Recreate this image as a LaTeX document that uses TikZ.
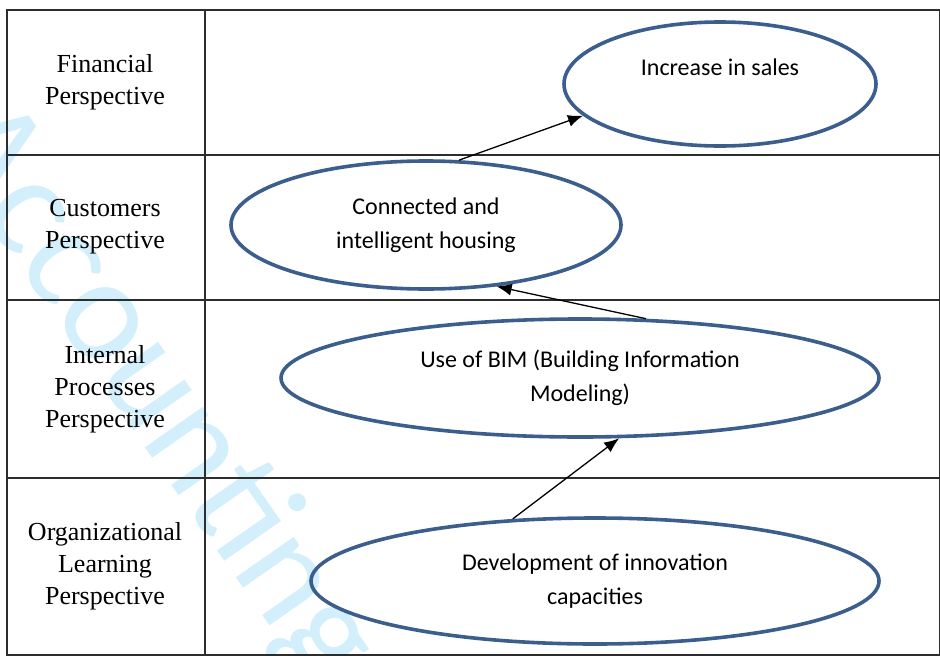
\documentclass[tikz,border=0pt]{standalone}
\usepackage{fontspec}
\usepackage{tikz}
\usetikzlibrary{shapes.geometric, arrows.meta}
\newfontfamily\goalfont{Carlito}
\newfontfamily\perspfont{Liberation Serif}
\definecolor{goalblue}{RGB}{59,94,140}
\definecolor{markcyan}{RGB}{210,239,251}
\definecolor{gridgray}{RGB}{45,45,45}

\tikzset{
    goal/.style={draw=goalblue, line width=3.6pt, ellipse, inner sep=0pt, align=center,
        font=\goalfont\fontsize{24}{33.5}\selectfont},
    persp/.style={align=center, font=\perspfont\fontsize{26}{32}\selectfont},
    link/.style={-{Latex[length=15pt,width=12pt]}, line width=1.3pt},
}

\begin{document}
\begin{tikzpicture}[x=1pt, y=-1pt]
    \useasboundingbox (0,0) rectangle (940,656);

    % watermark
    \begin{scope}
        \clip (0,0) rectangle (940,656);
        \node[markcyan, rotate=-55, anchor=base west, inner sep=0pt,
            font=\goalfont\fontsize{148}{148}\selectfont] (mark) at (-70,140) {Accounting};
    \end{scope}

    % table
    \draw[gridgray, line width=1.4pt] (7,10) rectangle (940,655);
    \foreach \y in {155,300,478}
        \draw[gridgray, line width=1.4pt] (7,\y) -- (940,\y);
    \draw[gridgray, line width=1.6pt] (205,10) -- (205,655);

    \node[persp] (fin) at (105,82) {Financial\\Perspective};
    \node[persp] (cust) at (105,227) {Customers\\Perspective};
    \node[persp] (proc) at (105,389) {Internal\\Processes\\Perspective};
    \node[persp] (learn) at (105,566) {Organizational\\Learning\\Perspective};

    % objectives
    \node[goal, minimum width=312pt, minimum height=124pt] (sales) at (720,84) {Increase in sales\\\mbox{}};
    \node[goal, minimum width=390pt, minimum height=128pt] (house) at (426,225) {Connected and\\intelligent housing};
    \node[goal, minimum width=598pt, minimum height=118pt] (bim) at (580,378) {Use of BIM (Building Information\\Modeling)};
    \node[goal, minimum width=568pt, minimum height=126pt] (innov) at (595,581) {Development of innovation\\capacities};

    \draw[link] (house.63) -- (sales.193);
    \draw[link] (bim.42) -- (house.-41);
    \draw[link] (innov.143) -- (bim.-57);
\end{tikzpicture}
\end{document}
